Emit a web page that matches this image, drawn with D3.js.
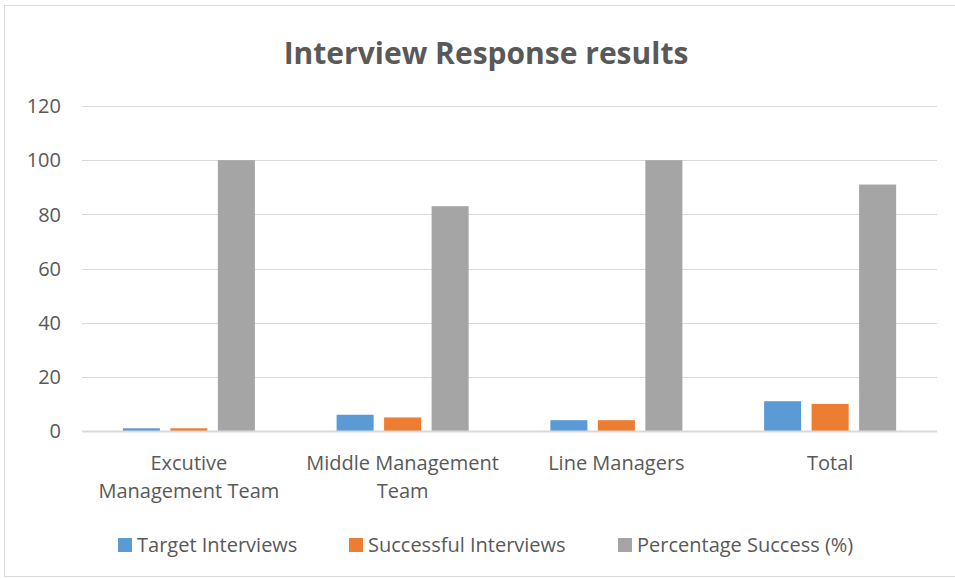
<!DOCTYPE html>
<html>
<head>
<meta charset="utf-8">
<script src="https://cdn.jsdelivr.net/npm/d3@7"></script>
<style>
  body { margin: 0; background: #fff; }
  text { font-family: "Open Sans", "Noto Sans", sans-serif; fill: #595959; }
</style>
</head>
<body>
<div id="chart"></div>
<script>
var categories = [["Excutive", "Management Team"], ["Middle Management", "Team"], ["Line Managers"], ["Total"]];
var seriesNames = ["Target Interviews", "Successful Interviews", "Percentage Success (%)"];
var target = [1, 6, 4, 11];
var successful = [1, 5, 4, 10];
var percentage = [100, 83, 100, 91];
var yTicks = [0, 20, 40, 60, 80, 100, 120];
var colors = ["#5b9bd5", "#ed7d31", "#a5a5a5"];

var width = 955, height = 579;
var margin = { top: 106, left: 82, right: 18, bottom: 148 };

var svg = d3.select("#chart").append("svg")
  .attr("width", width)
  .attr("height", height);

// outer frame
svg.append("rect")
  .attr("x", 4.5).attr("y", 5.5)
  .attr("width", 960).attr("height", 571)
  .attr("fill", "none").attr("stroke", "#d9d9d9");

var rows = categories.map(function(c, i) {
  return { label: c, values: [target[i], successful[i], percentage[i]] };
});

var x0 = d3.scaleBand()
  .domain(d3.range(categories.length))
  .range([margin.left, width - margin.right]);

var x1 = d3.scaleBand()
  .domain(d3.range(seriesNames.length))
  .range([0, x0.bandwidth()])
  .paddingInner(0.22)
  .paddingOuter(0.86);

var y = d3.scaleLinear()
  .domain([0, 120])
  .range([height - margin.bottom, margin.top]);

// gridlines
svg.append("g").selectAll("line")
  .data(yTicks.filter(function(d) { return d > 0; }))
  .enter().append("line")
  .attr("x1", margin.left).attr("x2", width - margin.right)
  .attr("y1", function(d) { return Math.round(y(d)) + 0.5; })
  .attr("y2", function(d) { return Math.round(y(d)) + 0.5; })
  .attr("stroke", "#d9d9d9").attr("stroke-width", 1);

// y labels
svg.append("g").selectAll("text")
  .data(yTicks)
  .enter().append("text")
  .attr("x", 61)
  .attr("y", function(d) { return y(d); })
  .attr("dy", "0.36em")
  .attr("text-anchor", "end")
  .style("font-size", "20px")
  .text(function(d) { return d; });

// bars
svg.append("g").selectAll("g")
  .data(rows)
  .enter().append("g")
  .attr("transform", function(d, i) { return "translate(" + x0(i) + ",0)"; })
  .selectAll("rect")
  .data(function(d) { return d.values; })
  .enter().append("rect")
  .attr("x", function(d, j) { return x1(j); })
  .attr("width", x1.bandwidth())
  .attr("y", function(d) { return y(d); })
  .attr("height", function(d) { return y(0) - y(d); })
  .attr("fill", function(d, j) { return colors[j]; });

// baseline
svg.append("line")
  .attr("x1", margin.left).attr("x2", width - margin.right)
  .attr("y1", Math.round(y(0)) + 0.5).attr("y2", Math.round(y(0)) + 0.5)
  .attr("stroke", "#d9d9d9").attr("stroke-width", 2);

// category labels
var catLabels = svg.append("g").selectAll("text")
  .data(rows)
  .enter().append("text")
  .attr("x", function(d, i) { return x0(i) + x0.bandwidth() / 2; })
  .attr("y", 470)
  .attr("text-anchor", "middle")
  .style("font-size", "20px");

catLabels.selectAll("tspan")
  .data(function(d) { return d.label; })
  .enter().append("tspan")
  .attr("x", function() { return d3.select(this.parentNode).attr("x"); })
  .attr("dy", function(d, k) { return k === 0 ? 0 : 28; })
  .text(function(d) { return d; });

// title
svg.append("text")
  .attr("x", 486).attr("y", 64)
  .attr("text-anchor", "middle")
  .style("font-size", "30px")
  .style("font-weight", "bold")
  .text("Interview Response results");

// legend
var legendX = [118, 349, 618];
var legend = svg.append("g").selectAll("g")
  .data(seriesNames)
  .enter().append("g")
  .attr("transform", function(d, i) { return "translate(" + legendX[i] + ",538)"; });

legend.append("rect")
  .attr("width", 14).attr("height", 14)
  .attr("fill", function(d, i) { return colors[i]; });

legend.append("text")
  .attr("x", 19).attr("y", 14)
  .style("font-size", "20px")
  .text(function(d) { return d; });
</script>
</body>
</html>
